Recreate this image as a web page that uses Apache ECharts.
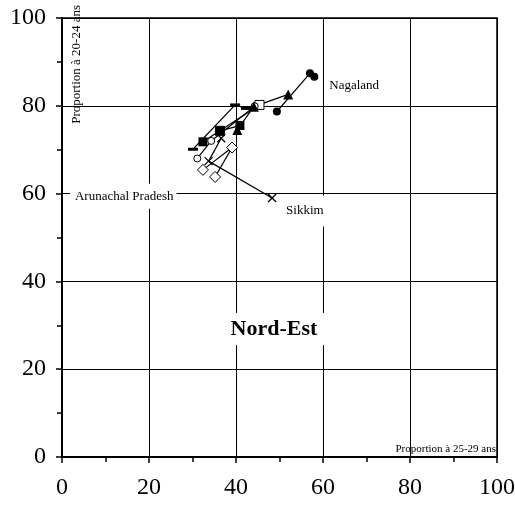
<!DOCTYPE html>
<html lang="fr">
<head>
<meta charset="UTF-8">
<title>Nord-Est</title>
<script src="https://cdn.jsdelivr.net/npm/echarts@6/dist/echarts.min.js"></script>
<style>body{margin:0;background:#fff}</style>
</head>
<body>
<div id="main" style="width:515px;height:509px"></div>
<script>
// points : [proportion a 25-29 ans, proportion a 20-24 ans]
var openSquares = [[36.3, 74.3], [45.4, 80.2]];
var openCircles = [[31.1, 68.0], [34.3, 72.0], [44.3, 79.9]];
var diamonds = [[32.4, 65.4], [39.1, 70.5], [35.2, 63.8]];
var sikkim = [[36.6, 72.6], [33.7, 67.4], [48.3, 59.0]];
var squares = [[32.4, 71.8], [36.3, 74.3], [40.9, 75.5]];
var arunachal = [[30.1, 70.1], [39.8, 80.2], [42.3, 79.4]];
var triangles = [[40.3, 74.5], [44.1, 79.8], [52.0, 82.6]];
var nagaland = [[49.4, 78.7], [57.0, 87.4], [58.0, 86.6]];

var stateNames = ['Nagaland', 'Arunachal Pradesh', 'Sikkim'];
var xName = 'Proportion à 25-29 ans';
var yName = 'Proportion à 20-24 ans';
var regionName = 'Nord-Est';

var serif = 'Liberation Serif';
var crossPath = 'path://M0,0L10,10M10,0L0,10';

function withLabel(data, idx, text, lab) {
    return data.map(function (p, i) {
        if (i !== idx) return p;
        return {
            value: p,
            label: Object.assign({
                show: true, formatter: text, position: 'inside',
                align: 'left', verticalAlign: 'middle',
                color: '#000', fontFamily: serif, fontSize: 13
            }, lab)
        };
    });
}

function mk(name, data, symbol, size, fill) {
    return {
        name: name, type: 'line', data: data,
        symbol: symbol, symbolSize: size, showSymbol: true,
        lineStyle: { color: '#000', width: 1.2 },
        itemStyle: { color: fill, borderColor: '#000', borderWidth: fill === '#000' ? 0 : 1 },
        emphasis: { disabled: true },
        label: { show: false }
    };
}

var chart = echarts.init(document.getElementById('main'));

var sik = mk('Sikkim', withLabel(sikkim, 2, stateNames[2], {
    offset: [10, 13], backgroundColor: '#fff', padding: [10, 4, 8, 4]
}), crossPath, 8, 'none');
sik.itemStyle = { color: 'none', borderColor: '#000', borderWidth: 1.3 };

chart.setOption({
    animation: false,
    grid: { left: 62, right: 18, top: 18, bottom: 52, show: true, borderColor: '#000', borderWidth: 1.5, outerBoundsMode: 'none' },
    xAxis: {
        type: 'value', min: 0, max: 100, interval: 20,
        name: xName, nameLocation: 'end', nameGap: -1,
        nameTextStyle: { align: 'right', verticalAlign: 'bottom', fontFamily: serif, fontSize: 11, color: '#000', padding: [0, 0, 2, 0] },
        axisLine: { show: true, lineStyle: { color: '#000', width: 2 } },
        axisTick: { show: true, length: 6, lineStyle: { color: '#000', width: 1.5 } },
        minorTick: { show: true, splitNumber: 2, length: 5, lineStyle: { color: '#000', width: 1.5 } },
        splitLine: { show: true, lineStyle: { color: '#000', width: 1 } },
        axisLabel: { color: '#000', fontFamily: serif, fontSize: 24, margin: 19 }
    },
    yAxis: {
        type: 'value', min: 0, max: 100, interval: 20,
        axisLine: { show: true, lineStyle: { color: '#000', width: 2 } },
        axisTick: { show: true, length: 6, lineStyle: { color: '#000', width: 1.5 } },
        minorTick: { show: true, splitNumber: 2, length: 5, lineStyle: { color: '#000', width: 1.5 } },
        splitLine: { show: true, lineStyle: { color: '#000', width: 1 } },
        axisLabel: { color: '#000', fontFamily: serif, fontSize: 24, margin: 16 }
    },
    graphic: [
        {
            type: 'text', x: 77, y: 5, rotation: Math.PI / 2, z: 100,
            style: { text: yName, font: '13px "Liberation Serif"', fill: '#000', align: 'right', verticalAlign: 'middle' }
        },
        {
            type: 'text', x: 274, y: 329, z: 100,
            style: { text: regionName, font: 'bold 22px "Liberation Serif"', fill: '#000', align: 'center', verticalAlign: 'middle', backgroundColor: '#fff', padding: [5, 8] }
        }
    ],
    series: [
        mk('carres vides', openSquares, 'rect', 9, '#fff'),
        mk('cercles vides', openCircles, 'circle', 7, '#fff'),
        mk('losanges', diamonds, 'diamond', 11, '#fff'),
        sik,
        mk('carres', squares, 'rect', 9, '#000'),
        mk('Arunachal Pradesh', withLabel(arunachal, 0, stateNames[1], {
            offset: [-123, 47], backgroundColor: '#fff', padding: [6, 3, 6, 5]
        }), 'rect', [10, 3], '#000'),
        mk('triangles', triangles, 'triangle', 10, '#000'),
        mk('Nagaland', withLabel(nagaland, 2, stateNames[0], { offset: [15, 9] }), 'circle', 8, '#000')
    ]
});
</script>
</body>
</html>
